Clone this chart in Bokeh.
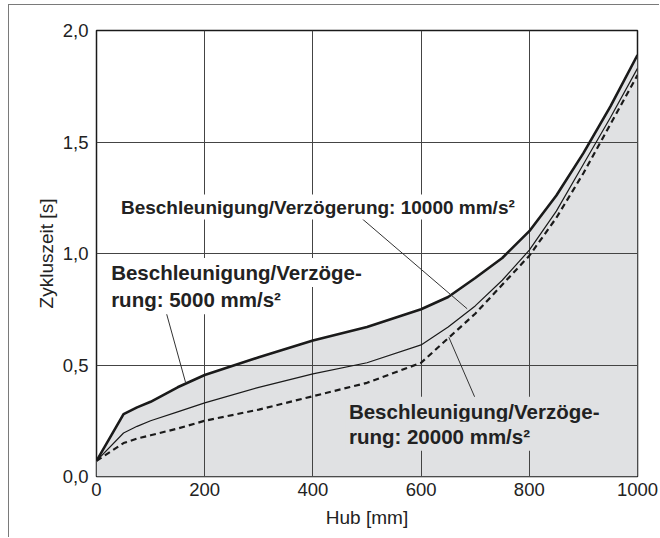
from bokeh.plotting import figure
from bokeh.models import FixedTicker, Range1d
from bokeh.core.properties import value
from bokeh.embed import file_html
from bokeh.resources import INLINE

# ---- data ----
hub = [0, 50, 75, 100, 150, 200, 300, 400, 500, 600, 650, 700, 750, 800, 850, 900, 950, 1000]
zeit_5000 = [0.07, 0.28, 0.31, 0.335, 0.40, 0.455, 0.535, 0.61, 0.67, 0.75, 0.805, 0.89, 0.98, 1.10, 1.26, 1.45, 1.66, 1.89]
zeit_10000 = [0.07, 0.195, 0.225, 0.25, 0.29, 0.33, 0.40, 0.46, 0.51, 0.59, 0.67, 0.765, 0.88, 1.015, 1.19, 1.40, 1.61, 1.83]
zeit_20000 = [0.07, 0.15, 0.17, 0.185, 0.215, 0.25, 0.30, 0.36, 0.42, 0.51, 0.62, 0.73, 0.86, 0.99, 1.16, 1.36, 1.58, 1.80]

x_ticks = [0, 200, 400, 600, 800, 1000]
x_tick_labels = ["0", "200", "400", "600", "800", "1000"]
y_ticks = [0, 0.5, 1.0, 1.5, 2.0]
y_tick_labels = ["0,0", "0,5", "1,0", "1,5", "2,0"]

label_10000 = "Beschleunigung/Verzögerung: 10000 mm/s²"
label_5000 = ["Beschleunigung/Verzöge-", "rung: 5000 mm/s²"]
label_20000 = ["Beschleunigung/Verzöge-", "rung: 20000 mm/s²"]

FONT = "Liberation Sans"
INK = "#222222"

p = figure(width=651, height=533,
           x_range=Range1d(0, 1000), y_range=Range1d(0, 2),
           output_backend="svg", toolbar_location=None,
           min_border_left=87, min_border_right=23,
           min_border_top=25, min_border_bottom=62,
           styles={"border-top": "1px solid #7a7a7a",
                   "border-left": "1px solid #7a7a7a",
                   "margin-left": "8px",
                   "margin-top": "4px"})

p.background_fill_color = "white"
p.border_fill_color = "white"
p.outline_line_color = "#1a1a1a"
p.outline_line_width = 1.5

p.xaxis.ticker = FixedTicker(ticks=x_ticks)
p.yaxis.ticker = FixedTicker(ticks=y_ticks)
p.xaxis.major_label_overrides = dict(zip(x_ticks, x_tick_labels))
p.yaxis.major_label_overrides = dict(zip(y_ticks, y_tick_labels))

for ax in p.axis:
    ax.major_tick_out = 0
    ax.major_tick_in = 0
    ax.minor_tick_out = 0
    ax.minor_tick_in = 0
    ax.axis_line_color = None
    ax.major_label_text_font = FONT
    ax.major_label_text_font_size = "18.5px"
    ax.major_label_text_color = INK
    ax.axis_label_text_font = FONT
    ax.axis_label_text_font_size = "19px"
    ax.axis_label_text_font_style = "normal"
    ax.axis_label_text_color = INK

p.xaxis.axis_label = "Hub [mm]"
p.yaxis.axis_label = "Zykluszeit [s]"
p.xaxis.major_label_standoff = 6
p.yaxis.major_label_standoff = 8
p.xaxis.axis_label_standoff = 8
p.yaxis.axis_label_standoff = 3

p.grid.grid_line_color = "#444444"
p.grid.grid_line_width = 1

# filled area under the 5000 mm/s² curve
p.varea(x=hub, y1=0, y2=zeit_5000, fill_color="#e0e1e3", level="image")

# curves
p.line(hub, zeit_20000, line_color="#1a1a1a", line_width=2.2, line_dash="6 4")
p.line(hub, zeit_10000, line_color="#1a1a1a", line_width=1.2)
p.line(hub, zeit_5000, line_color="#1a1a1a", line_width=2.6)

# leader lines
p.segment(x0=[127.5, 491.1, 651.2], y0=[0.7475, 1.1556, 0.6247],
          x1=[164.5, 685.2, 700.6], y1=[0.423, 0.752, 0.348],
          line_color="#333333", line_width=1)

# annotation texts
common = dict(text_font=value(FONT), text_font_style="bold", text_color=INK,
              text_align="left", text_baseline="alphabetic", level="annotation")
p.text(x=[41.5], y=[1.208], text=[label_10000], text_font_size="19px",
       background_fill_color="white", padding=2, **common)
p.text(x=[21.5, 21.5], y=[0.915, 0.793], text=label_5000, text_font_size="20.5px",
       background_fill_color="white", padding=3, **common)
p.text(x=[461.0, 461.0], y=[0.293, 0.181], text=label_20000, text_font_size="20.5px",
       background_fill_color="#e0e1e3", padding=3, **common)

open("out.html", "w").write(file_html(p, INLINE))
